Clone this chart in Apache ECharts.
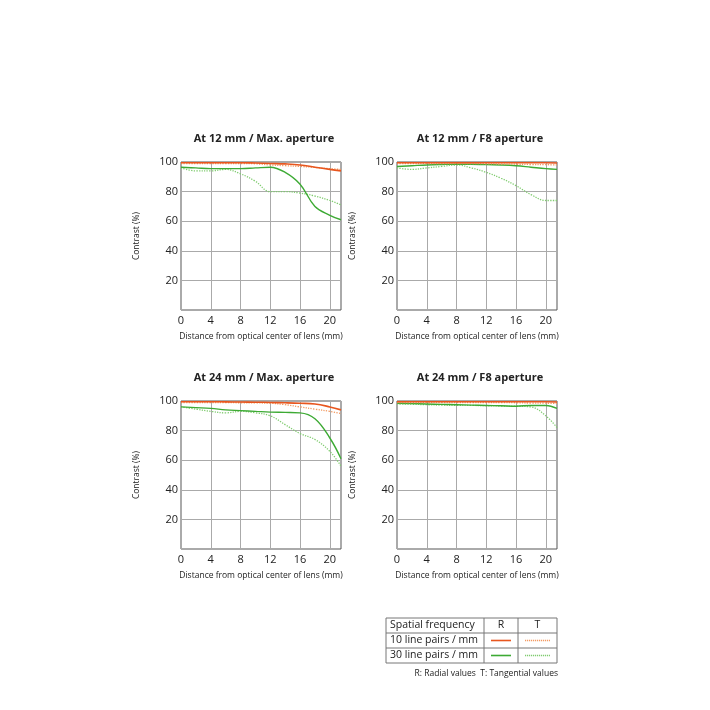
<!DOCTYPE html>
<html><head><meta charset="utf-8">
<script src="https://cdn.jsdelivr.net/npm/echarts@6/dist/echarts.min.js"></script>
<style>html,body{margin:0;padding:0;background:#fff}#chart{width:710px;height:710px}</style>
</head><body><div id="chart"></div>
<script>
const titles = ['At 12 mm / Max. aperture', 'At 12 mm / F8 aperture', 'At 24 mm / Max. aperture', 'At 24 mm / F8 aperture']
const xs = [0, 2, 4, 6, 8, 10, 12, 14, 16, 18, 20, 21.5]
// [R10, T10, R30, T30] per panel
const p12max = [
  [99.5, 99.5, 99.5, 99.5, 99.5, 99.3, 99, 98.7, 98, 96.5, 95, 94],
  [99, 99, 99, 99, 99, 98.8, 98, 97.5, 97, 96.3, 95.5, 95],
  [96.5, 96, 95.5, 95.5, 95.5, 96, 96.5, 93, 85, 70, 64, 61],
  [96, 94, 94, 95, 92, 87, 80, 80, 79, 77, 74, 71]
]
const p12f8 = [
  [99.5, 99.5, 99.5, 99.5, 99.5, 99.5, 99.5, 99.5, 99.5, 99.5, 99.5, 99.3],
  [99, 99, 99, 99, 99, 99, 98.8, 98.6, 98.5, 98.3, 98.2, 98],
  [97, 97.5, 98, 98.3, 98.5, 98.5, 98.2, 98, 97.5, 96.5, 95.5, 95],
  [96, 95, 96, 97, 98, 96, 93, 89, 84, 78, 74, 74]
]
const p24max = [
  [99.5, 99.5, 99.5, 99.4, 99.3, 99.2, 99, 98.8, 98.5, 98, 96, 94],
  [99, 99, 99, 98.9, 98.8, 98.7, 98.5, 97.5, 96, 94.5, 93, 91.5],
  [96, 95.5, 95, 94, 93.5, 93, 92.5, 92.3, 92, 88, 75, 61],
  [96, 94.5, 93, 92, 93, 92, 90, 84, 78, 74, 66, 56]
]
const p24f8 = [
  [99.5, 99.5, 99.5, 99.5, 99.5, 99.5, 99.5, 99.5, 99.5, 99.5, 99.5, 99.3],
  [99, 99, 99, 99, 99, 99, 99, 99, 98.8, 98.6, 98.5, 98.3],
  [98.5, 98.2, 98, 97.7, 97.5, 97.2, 97, 96.8, 96.5, 97, 97, 95],
  [98, 97.8, 97.5, 97.2, 97, 97, 96.8, 96.6, 96.5, 96, 90, 82]
]
const panels = [p12max, p12f8, p24max, p24f8]
const xTicks = [0, 4, 8, 12, 16, 20]

const lineStyles = [
  { color: '#e8561e', width: 1.6, type: 'solid' },
  { color: '#f29a62', width: 1.3, type: 'dotted' },
  { color: '#3daa34', width: 1.4, type: 'solid' },
  { color: '#80cc70', width: 1.3, type: 'dotted' }
]
const boxes = [
  { left: 181, top: 162 }, { left: 397, top: 162 },
  { left: 181, top: 401 }, { left: 397, top: 401 }
]
const W = 160, H = 148
const font = '"Open Sans", "Noto Sans", sans-serif'

const grid = [], xAxis = [], yAxis = [], series = [], title = []
boxes.forEach((b, i) => {
  grid.push({ left: b.left, top: b.top, width: W, height: H, show: true, borderColor: '#555', borderWidth: 1 })
  title.push({ text: titles[i], left: b.left + W / 2 - 2, top: b.top - 34, textAlign: 'center',
    textStyle: { fontSize: 11, fontWeight: 'bold', color: '#222', fontFamily: font } })
  xAxis.push({ gridIndex: i, type: 'value', min: 0, max: 21.5, interval: 4,
    name: 'Distance from optical center of lens (mm)', nameLocation: 'middle', nameGap: 22,
    nameTextStyle: { fontSize: 8.5, color: '#222', fontFamily: font },
    axisLine: { show: false }, axisTick: { show: false },
    axisLabel: { fontSize: 11, color: '#222', margin: 5, fontFamily: font, showMaxLabel: false,
      formatter: v => xTicks.includes(v) ? String(v) : '' },
    splitLine: { lineStyle: { color: '#aaa', width: 1 } } })
  yAxis.push({ gridIndex: i, type: 'value', min: 0, max: 100, interval: 20,
    name: 'Contrast (%)', nameLocation: 'middle', nameGap: 23, nameRotate: 90,
    nameTextStyle: { fontSize: 8.5, color: '#222', fontFamily: font },
    axisLine: { show: false }, axisTick: { show: false },
    axisLabel: { fontSize: 11, color: '#222', margin: 3, fontFamily: font, showMinLabel: false,
      formatter: v => v === 100 ? '100' : '       ' + v },
    splitLine: { lineStyle: { color: '#aaa', width: 1 } } })
  panels[i].forEach((vals, k) => {
    series.push({ type: 'line', xAxisIndex: i, yAxisIndex: i, smooth: 0.4, symbol: 'none',
      z: 10 - k, lineStyle: lineStyles[k], data: xs.map((x, j) => [x, vals[j]]) })
  })
})

// legend table
const tx = 386, ty = 618, cw = [98, 34, 39], rh = 15
const legRows = ['Spatial frequency', '10 line pairs / mm', '30 line pairs / mm']
const graphic = []
const totW = cw[0] + cw[1] + cw[2]
graphic.push({ type: 'rect', shape: { x: tx, y: ty, width: totW, height: rh * 3 }, style: { fill: 'none', stroke: '#777', lineWidth: 1 } })
for (let r = 1; r < 3; r++) graphic.push({ type: 'line', shape: { x1: tx, y1: ty + r * rh, x2: tx + totW, y2: ty + r * rh }, style: { stroke: '#777' } })
graphic.push({ type: 'line', shape: { x1: tx + cw[0], y1: ty, x2: tx + cw[0], y2: ty + 3 * rh }, style: { stroke: '#777' } })
graphic.push({ type: 'line', shape: { x1: tx + cw[0] + cw[1], y1: ty, x2: tx + cw[0] + cw[1], y2: ty + 3 * rh }, style: { stroke: '#777' } })
legRows.forEach((t, r) => graphic.push({ type: 'text', x: tx + 4, y: ty + r * rh + rh / 2,
  style: { text: t, fontSize: 10.5, fill: '#222', fontFamily: font, verticalAlign: 'middle' } }))
graphic.push({ type: 'text', x: tx + cw[0] + cw[1] / 2, y: ty + rh / 2, style: { text: 'R', fontSize: 10.5, fill: '#222', fontFamily: font, align: 'center', verticalAlign: 'middle' } })
graphic.push({ type: 'text', x: tx + cw[0] + cw[1] + cw[2] / 2, y: ty + rh / 2, style: { text: 'T', fontSize: 10.5, fill: '#222', fontFamily: font, align: 'center', verticalAlign: 'middle' } })
for (let r = 1; r < 3; r++) {
  for (let c = 0; c < 2; c++) {
    const ls = lineStyles[(r - 1) * 2 + c]
    const x0 = tx + cw[0] + (c === 0 ? 0 : cw[1]) + 7
    const w = (c === 0 ? cw[1] : cw[2]) - 14
    graphic.push({ type: 'line', shape: { x1: x0, y1: ty + r * rh + rh / 2, x2: x0 + w, y2: ty + r * rh + rh / 2 },
      style: { stroke: ls.color, lineWidth: ls.type === 'dotted' ? 1.4 : 1.6, lineDash: ls.type === 'dotted' ? [1.2, 0.8] : null } })
  }
}
graphic.push({ type: 'text', x: tx + totW + 1, y: ty + 3 * rh + 11, style: { text: 'R: Radial values  T: Tangential values', fontSize: 8.5, fill: '#222', fontFamily: font, align: 'right', verticalAlign: 'middle' } })

const chart = echarts.init(document.getElementById('chart'))
chart.setOption({ animation: false, title, grid, xAxis, yAxis, series, graphic })
</script></body></html>
